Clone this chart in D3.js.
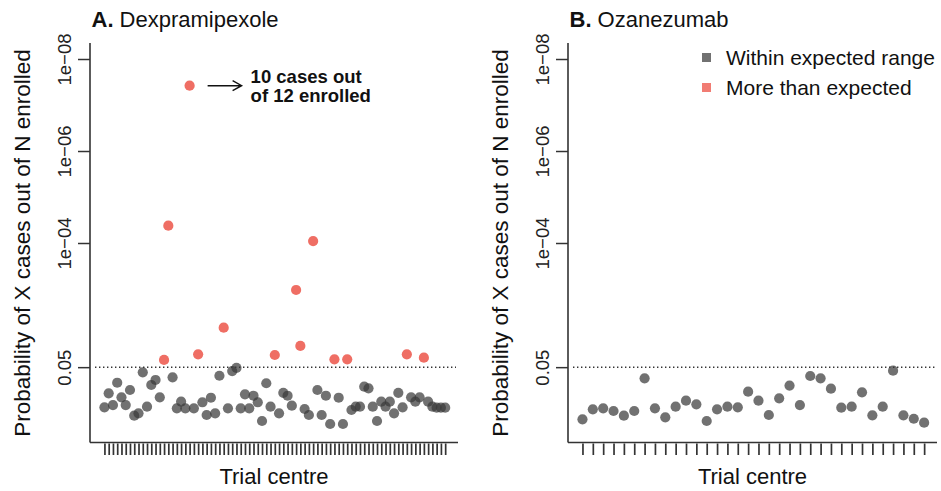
<!DOCTYPE html>
<html>
<head>
<meta charset="utf-8">
<script src="https://cdn.jsdelivr.net/npm/d3@7"></script>
<style>
  html, body { margin: 0; padding: 0; background: #fff; }
  svg { display: block; font-family: "Liberation Sans", Arial, Helvetica, sans-serif; }
</style>
</head>
<body>
<svg id="chart" width="941" height="491"></svg>
<script>
// ---- data ----
const titlesPrefix = ["A.", "B."];
const titlesName = ["Dexpramipexole", "Ozanezumab"];
// probability of X cases out of N enrolled, one value per trial centre
const pDexpramipexole = [0.373,0.185,0.333,0.109,0.226,0.333,0.157,0.567,0.503,0.0647,
  0.362,0.122,0.095,0.226,0.0349,4.2e-5,0.083,0.392,0.282,0.392,
  3.8e-8,0.392,0.0263,0.290,0.548,0.231,0.503,0.0768,0.00693,0.392,
  0.0607,0.052,0.392,0.195,0.392,0.209,0.290,0.741,0.112,0.362,
  0.0272,0.503,0.181,0.209,0.344,0.00105,0.0173,0.406,0.548,9.1e-5,
  0.157,0.548,0.209,0.861,0.0337,0.231,0.861,0.0337,0.427,0.362,
  0.362,0.133,0.144,0.362,0.741,0.282,0.362,0.282,0.503,0.181,
  0.373,0.0263,0.226,0.282,0.226,0.0311,0.282,0.362,0.380,0.380,0.380];
const pOzanezumab = [0.681,0.412,0.392,0.449,0.567,0.449,0.0873,0.392,0.615,0.362,
  0.268,0.321,0.741,0.412,0.362,0.373,0.171,0.268,0.548,0.238,
  0.126,0.333,0.0778,0.0873,0.147,0.380,0.362,0.176,0.557,0.362,
  0.0597,0.557,0.661,0.807];
const yTickValues = [1e-8, 1e-6, 1e-4, 0.05];
const yTickLabels = ["1e\u221208", "1e\u221206", "1e\u221204", "0.05"];
const threshold = 0.05;
const legendLabels = ["Within expected range", "More than expected"];
const annotationLines = ["10 cases out", "of 12 enrolled"];
const yTitle = "Probability of X cases out of N enrolled";
const xTitle = "Trial centre";

// ---- styles ----
const GREY = "#3a3a3a", GREY_OP = 0.72, RED = "#ef6e64";
const AXIS = "#333";

const svg = d3.select("#chart");

const panels = [
  { values: pDexpramipexole, left: 90, right: 458, title: 0 },
  { values: pOzanezumab, left: 568, right: 937, title: 1 }
];

const y = d3.scaleLog().domain([Math.pow(10, -8.348), Math.pow(10, 0.326)]).range([43, 442]);

panels.forEach((p, pi) => {
  const n = p.values.length;
  const pad = 0.04 * (n - 1);
  const x = d3.scaleLinear().domain([1 - pad, n + pad]).range([p.left + 0.8, p.right + 0.8]);
  const g = svg.append("g");

  // y axis
  const yAxis = d3.axisLeft(y).tickValues(yTickValues)
    .tickFormat((d, i) => yTickLabels[i]).tickSize(12).tickSizeOuter(0).tickPadding(6);
  const ya = g.append("g").attr("transform", `translate(${p.left},0)`).call(yAxis);
  ya.select(".domain").remove();
  ya.selectAll(".tick line").attr("stroke", AXIS).attr("stroke-width", 1.5);
  ya.selectAll(".tick text")
    .attr("transform", "rotate(-90)")
    .attr("x", 0).attr("y", -19).attr("dy", 0)
    .attr("text-anchor", "middle")
    .attr("font-size", 18.5).attr("fill", "#222")
    .attr("font-family", "'Liberation Sans', Arial, sans-serif");
  // axis lines (L-shaped box)
  g.append("line").attr("x1", p.left).attr("x2", p.left).attr("y1", 43).attr("y2", 442.5)
    .attr("stroke", AXIS).attr("stroke-width", 1.6);

  // x axis
  const xAxis = d3.axisBottom(x).tickValues(d3.range(1, n + 1)).tickFormat("").tickSize(13).tickSizeOuter(0);
  const xa = g.append("g").attr("transform", `translate(0,442)`).call(xAxis);
  xa.select(".domain").attr("stroke", AXIS).attr("stroke-width", 1.6)
    .attr("d", `M${p.left},0.5H${p.right}`);
  xa.selectAll(".tick line").attr("stroke", "#333").attr("stroke-width", 1.7).attr("y1", 1.5);

  // threshold line
  g.append("line").attr("x1", p.left + 5).attr("x2", p.right - 2)
    .attr("y1", y(threshold)).attr("y2", y(threshold))
    .attr("stroke", "#333").attr("stroke-width", 1.5).attr("stroke-dasharray", "1.4,2.6");

  // points
  g.append("g").selectAll("circle").data(p.values).join("circle")
    .attr("cx", (d, i) => x(i + 1)).attr("cy", d => y(d)).attr("r", 5.1)
    .attr("fill", d => d < threshold ? RED : GREY)
    .attr("fill-opacity", d => d < threshold ? 1 : GREY_OP);

  // title
  const t = svg.append("text").attr("x", p.left + 1.5).attr("y", 27).attr("font-size", 22).attr("fill", "#111");
  t.append("tspan").attr("font-weight", "bold").text(titlesPrefix[p.title]);
  t.append("tspan").text(" " + titlesName[p.title]);

  // y title
  svg.append("text").attr("transform", `translate(${p.left - 60},243) rotate(-90)`)
    .attr("text-anchor", "middle").attr("font-size", 22.5).attr("fill", "#111").text(yTitle);
  // x title
  svg.append("text").attr("x", (p.left + p.right) / 2).attr("y", 484)
    .attr("text-anchor", "middle").attr("font-size", 22).attr("fill", "#111").text(xTitle);

  // annotation for panel A: the smallest probability
  if (pi === 0) {
    const minIdx = d3.minIndex(p.values);
    const px = x(minIdx + 1), py = y(p.values[minIdx]);
    const ax1 = px + 18, ax2 = px + 52;
    g.append("path").attr("d", `M${ax1},${py}H${ax2}M${ax2 - 9},${py - 5}L${ax2},${py}L${ax2 - 9},${py + 5}`)
      .attr("fill", "none").attr("stroke", "#111").attr("stroke-width", 1.4);
    const at = g.append("text").attr("font-size", 18.5).attr("font-weight", "bold").attr("fill", "#111");
    annotationLines.forEach((s, k) => {
      at.append("tspan").attr("x", px + 61).attr("y", py - 3 + k * 19.5).text(s);
    });
  }

  // legend in panel B
  if (pi === 1) {
    const lg = svg.append("g");
    [GREY, RED].forEach((c, k) => {
      lg.append("rect").attr("x", 702).attr("y", 53 + k * 30).attr("width", 9).attr("height", 9)
        .attr("fill", c).attr("fill-opacity", k === 0 ? GREY_OP : 0.9);
      lg.append("text").attr("x", 726).attr("y", 65 + k * 30).attr("font-size", 21).attr("fill", "#111")
        .text(legendLabels[k]);
    });
  }
});
</script>
</body>
</html>
